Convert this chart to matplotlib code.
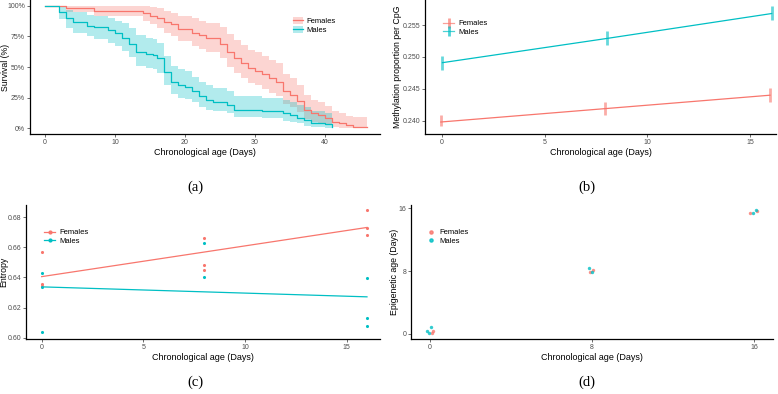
import numpy as np
import matplotlib
matplotlib.use('agg')
import matplotlib.pyplot as plt
from matplotlib.patches import Patch
from matplotlib.lines import Line2D

plt.rcParams['font.family'] = ['Liberation Sans', 'DejaVu Sans']

RED = '#F8766D'
TEAL = '#00BFC4'

# (a) survival curves
fem_t = [0, 3, 7, 14, 15, 16, 17, 18, 19, 21, 22, 23, 25, 26, 27, 28, 29, 30, 31, 32, 33,
         34, 35, 36, 37, 38, 39, 40, 41, 42, 43, 44, 46]
fem_s = [100, 98, 96, 94, 92, 90, 87, 85, 81, 78, 76, 73.5, 69, 62, 57, 53, 49, 47, 44, 41, 38,
         30, 27, 22, 15, 12, 10.5, 8.5, 5, 4, 2.5, 1, 1]
fem_up = [100, 100, 100, 100, 99, 98, 96, 94, 92, 90, 88, 86, 83, 77, 72, 68, 64, 62, 59, 56, 53,
          44, 41, 35, 27, 23, 21, 18, 14, 12, 10, 9, 9]
fem_lo = [100, 95, 92, 88, 85, 82, 78, 75, 71, 67, 65, 62, 57, 50, 45, 41, 37, 35, 32, 29, 26,
          20, 17, 13, 7, 5, 4, 3, 1, 0, 0, 0, 0]

mal_t = [0, 2, 3, 4, 6, 7, 9, 10, 11, 12, 13, 14.5, 15.5, 16, 17, 18, 19, 20, 21, 22, 23, 24,
         26, 27, 31, 34, 35, 36, 37, 38, 40, 41]
mal_s = [100, 95, 90, 87, 84, 82.5, 80, 77.5, 73.5, 69, 62.5, 61, 60, 57, 46, 38, 35, 34, 30, 26,
         23, 21.5, 19, 15, 14, 12, 10.5, 8.5, 6.5, 4.5, 3.3, 1]
mal_up = [100, 100, 97, 95, 93, 92, 90, 88, 86, 82, 76, 74, 73, 70, 59, 51, 48, 47, 42, 38, 35,
          33, 30, 26, 25, 23, 21, 19, 17, 14, 12, 10]
mal_lo = [100, 89, 82, 78, 75, 73, 70, 67, 63, 58, 51, 49, 48, 45, 35, 28, 25, 24, 21, 17, 15,
          14, 12, 9, 8, 6, 5, 4, 2, 1, 0, 0]

# (b) methylation mean and error bar ends
ages = [0, 8, 16]
meth_f = [0.2398, 0.2419, 0.2440]
meth_f_lo = [0.2391, 0.2409, 0.2430]
meth_f_hi = [0.2409, 0.2430, 0.2451]
meth_m = [0.2491, 0.2529, 0.2568]
meth_m_lo = [0.2480, 0.2519, 0.2558]
meth_m_hi = [0.2501, 0.2541, 0.2580]

# (c) entropy per sample
ent_f_x = [0, 0, 0, 8, 8, 8, 16, 16, 16]
ent_f_y = [0.6572, 0.6357, 0.6345, 0.6661, 0.6481, 0.6452, 0.6848, 0.6727, 0.6680]
ent_m_x = [0, 0, 0, 8, 8, 16, 16, 16]
ent_m_y = [0.6428, 0.6335, 0.6040, 0.6627, 0.6402, 0.6395, 0.6129, 0.6080]

# (d) epigenetic age vs chronological age (jittered)
epi_f_x = [0.13, 0.10, 7.90, 8.07, 15.80, 16.13]
epi_f_y = [0.38, 0.09, 7.85, 8.10, 15.36, 15.66]
epi_m_x = [-0.17, 0.03, -0.03, 7.87, 8.00, 15.97, 16.08]
epi_m_y = [0.42, 0.85, 0.17, 8.36, 7.85, 15.36, 15.78]

W, H = 778, 394
fig = plt.figure(figsize=(W / 100, H / 100), dpi=100)


def box(l, t, r, b):
    return [l / W, 1 - b / H, (r - l) / W, (b - t) / H]


def style(ax, ylab, ylab_x):
    for s in ['top', 'right']:
        ax.spines[s].set_visible(False)
    for s in ['left', 'bottom']:
        ax.spines[s].set_linewidth(0.9)
    ax.tick_params(labelsize=5, length=2, width=0.5, color='#333333',
                   labelcolor='#4d4d4d', pad=1.5)
    ax.set_xlabel('Chronological age (Days)', fontsize=6.5, labelpad=1.5)
    ax.set_ylabel(ylab, fontsize=6.3)
    # ylab_x is the right edge of the rotated label
    ax.yaxis.set_label_coords(ylab_x, 0.5)


ax1 = fig.add_axes(box(30, 0, 380, 134))
ax2 = fig.add_axes(box(425, 0, 776, 134))
ax3 = fig.add_axes(box(26, 205, 380, 339))
ax4 = fig.add_axes(box(411, 205, 773, 339))

# (a)
for t, s, lo, up, c in [(fem_t, fem_s, fem_lo, fem_up, RED), (mal_t, mal_s, mal_lo, mal_up, TEAL)]:
    ax1.fill_between(t, lo, up, step='post', color=c, alpha=0.3, lw=0)
    ax1.step(t, s, where='post', color=c, lw=0.9)
ax1.set_xlim(-2.14, 47.9)
ax1.set_ylim(-4.9, 104.9)
ax1.set_xticks([0, 10, 20, 30, 40])
ax1.set_yticks([0, 25, 50, 75, 100])
ax1.set_yticklabels(['0%', '25%', '50%', '75%', '100%'])
style(ax1, 'Survival (%)', (10 - 30) / 350)
h1 = [(Patch(color=RED, alpha=0.3, lw=0), Line2D([], [], color=RED, lw=0.9)),
      (Patch(color=TEAL, alpha=0.3, lw=0), Line2D([], [], color=TEAL, lw=0.9))]
ax1.legend(h1, ['Females', 'Males'], loc='upper left', bbox_to_anchor=(0.74, 0.9),
           frameon=False, fontsize=5.5, handlelength=1.3, handleheight=1.0,
           labelspacing=0.15, handletextpad=0.5, borderpad=0)

# (b)
dodge = 0.04
xf = np.array(ages) - dodge
xm = np.array(ages) + dodge
ax2.plot(xf, meth_f, color=RED, lw=0.9)
ax2.plot(xm, meth_m, color=TEAL, lw=0.9)
ax2.vlines(xf, meth_f_lo, meth_f_hi, color=RED, alpha=0.6, lw=2)
ax2.vlines(xm, meth_m_lo, meth_m_hi, color=TEAL, alpha=0.6, lw=2)
ax2.set_xlim(-0.81, 16.25)
ax2.set_ylim(0.23792, 0.25892)
ax2.set_xticks([0, 5, 10, 15])
ax2.set_yticks([0.240, 0.245, 0.250, 0.255])
ax2.set_yticklabels(['0.240', '0.245', '0.250', '0.255'])
style(ax2, 'Methylation proportion per CpG', (402 - 425) / 351)
h2 = [Line2D([], [], color=RED, lw=0.9, marker='|', ms=7, mew=2, alpha=0.7),
      Line2D([], [], color=TEAL, lw=0.9, marker='|', ms=7, mew=2, alpha=0.7)]
ax2.legend(h2, ['Females', 'Males'], loc='upper left', bbox_to_anchor=(0.04, 0.88),
           frameon=False, fontsize=5.5, handlelength=1.5, labelspacing=0.15,
           handletextpad=0.5, borderpad=0)

# (c)
xx = np.array([0, 16])
for x, y, c in [(ent_f_x, ent_f_y, RED), (ent_m_x, ent_m_y, TEAL)]:
    k, b0 = np.polyfit(x, y, 1)
    ax3.plot(xx, k * xx + b0, color=c, lw=0.9)
    ax3.scatter(x, y, color=c, s=5, lw=0, zorder=3)
ax3.set_xlim(-0.77, 16.64)
ax3.set_ylim(0.5991, 0.6882)
ax3.set_xticks([0, 5, 10, 15])
ax3.set_yticks([0.60, 0.62, 0.64, 0.66, 0.68])
ax3.set_yticklabels(['0.60', '0.62', '0.64', '0.66', '0.68'])
style(ax3, 'Entropy', (8.3 - 26) / 354)
h3 = [Line2D([], [], color=RED, lw=0.9, marker='o', ms=2),
      Line2D([], [], color=TEAL, lw=0.9, marker='o', ms=2)]
ax3.legend(h3, ['Females', 'Males'], loc='upper left', bbox_to_anchor=(0.04, 0.85),
           frameon=False, fontsize=5.5, handlelength=1.5, labelspacing=0.15,
           handletextpad=0.5, borderpad=0)

# (d)
ax4.scatter(epi_f_x, epi_f_y, color=RED, s=6, lw=0, alpha=0.8, zorder=3)
ax4.scatter(epi_m_x, epi_m_y, color=TEAL, s=6, lw=0, alpha=0.8, zorder=3)
ax4.set_xlim(-0.94, 16.94)
ax4.set_ylim(-0.64, 16.42)
ax4.set_xticks([0, 8, 16])
ax4.set_yticks([0, 8, 16])
style(ax4, 'Epigenetic age (Days)', (399 - 411) / 362)
h4 = [Line2D([], [], color=RED, lw=0, marker='o', ms=2.3, alpha=0.8),
      Line2D([], [], color=TEAL, lw=0, marker='o', ms=2.3, alpha=0.8)]
ax4.legend(h4, ['Females', 'Males'], loc='upper left', bbox_to_anchor=(0.035, 0.85),
           frameon=False, fontsize=5.5, handlelength=1.0, labelspacing=0.15,
           handletextpad=0.5, borderpad=0)

for lab, x, y in [('(a)', 195, 187), ('(b)', 587, 187), ('(c)', 195, 382), ('(d)', 587, 382)]:
    fig.text(x / W, 1 - y / H, lab, ha='center', va='center', fontsize=10.5,
             family=['Liberation Serif', 'DejaVu Serif'])

fig.savefig('out.png', dpi=100)
